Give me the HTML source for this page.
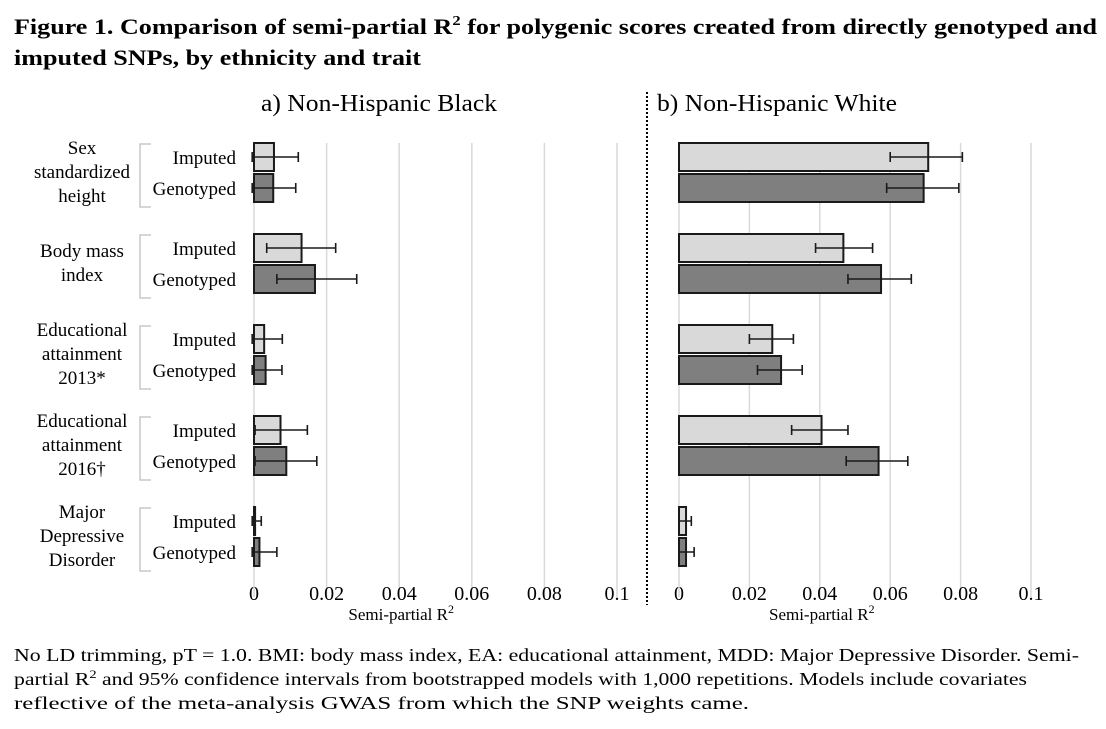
<!DOCTYPE html>
<html><head><meta charset="utf-8"><style>
html,body{margin:0;padding:0;background:#fff;width:1106px;height:729px;overflow:hidden}
svg text{font-family:"Liberation Serif",serif;fill:#000}
</style></head><body>
<svg id="fig" width="1106" height="729" viewBox="0 0 1106 729" xmlns="http://www.w3.org/2000/svg">
<text x="14" y="34" font-size="22" font-weight="bold" textLength="1083" lengthAdjust="spacingAndGlyphs">Figure 1. Comparison of semi-partial R<tspan font-size="14" dy="-9">2</tspan><tspan dy="9"> for polygenic scores created from directly genotyped and</tspan></text>
<text x="14" y="65" font-size="22" font-weight="bold" textLength="407" lengthAdjust="spacingAndGlyphs">imputed SNPs, by ethnicity and trait</text>
<text x="261" y="111" font-size="24" textLength="236" lengthAdjust="spacingAndGlyphs">a) Non-Hispanic Black</text>
<text x="657" y="111" font-size="24" textLength="240" lengthAdjust="spacingAndGlyphs">b) Non-Hispanic White</text>
<line x1="647" y1="92" x2="647" y2="605" stroke="#000" stroke-width="2" stroke-dasharray="2,2"/>
<g id="plot"></g>
<text x="14" y="661" font-size="18" textLength="1065" lengthAdjust="spacingAndGlyphs">No LD trimming, pT = 1.0. BMI: body mass index, EA: educational attainment, MDD: Major Depressive Disorder. Semi-</text>
<text x="14" y="685" font-size="18" textLength="1013" lengthAdjust="spacingAndGlyphs">partial R<tspan font-size="12" dy="-7">2</tspan><tspan dy="7"> and 95% confidence intervals from bootstrapped models with 1,000 repetitions. Models include covariates</tspan></text>
<text x="14" y="709" font-size="18" textLength="735" lengthAdjust="spacingAndGlyphs">reflective of the meta-analysis GWAS from which the SNP weights came.</text>
</svg>
<script>
const traits = [["Sex","standardized","height"],["Body mass","index"],["Educational","attainment","2013*"],["Educational","attainment","2016†"],["Major","Depressive","Disorder"]];
const ticks = [0,0.02,0.04,0.06,0.08,0.1];
const tickLabels = ["0","0.02","0.04","0.06","0.08","0.1"];
const blackImp = [0.0055,0.0131,0.0028,0.0073,0.0003];
const blackImpLo = [-0.0005,0.0035,-0.0005,0.0003,-0.0005];
const blackImpHi = [0.0122,0.0225,0.0078,0.0147,0.002];
const blackGen = [0.0053,0.0168,0.0032,0.0089,0.0015];
const blackGenLo = [-0.0005,0.0063,-0.0005,0.0003,-0.0005];
const blackGenHi = [0.0115,0.0283,0.0077,0.0173,0.0063];
const whiteImp = [0.0708,0.0467,0.0265,0.0405,0.002];
const whiteImpLo = [0.060,0.0388,0.020,0.032,0.0];
const whiteImpHi = [0.0805,0.055,0.0325,0.048,0.0035];
const whiteGen = [0.0695,0.0574,0.029,0.0567,0.002];
const whiteGenLo = [0.059,0.048,0.0223,0.0475,0.0];
const whiteGenHi = [0.0795,0.066,0.035,0.065,0.0043];

const NS="http://www.w3.org/2000/svg";
const g=document.getElementById('plot');
function mk(t,a,p){const e=document.createElementNS(NS,t);for(const k in a)e.setAttribute(k,a[k]);(p||g).appendChild(e);return e;}
const plotTop=143, plotBottom=597, groupH=91;
function yImp(i){return plotTop+i*groupH;}
function panel(x0,pxPer,imp,impLo,impHi,gen,genLo,genHi,name){
  const sx=v=>x0+v*pxPer;
  ticks.forEach((t,i)=>{
    if(i>0){const l=mk('line',{x1:sx(t),x2:sx(t),y1:plotTop,y2:plotBottom,stroke:'#d9d9d9','stroke-width':1.5});
    
    }
    const tx=mk('text',{x:sx(t),y:600,'font-size':20,'text-anchor':'middle'});tx.textContent=tickLabels[i];
    
    
  });
  const ax=mk('line',{x1:x0,x2:x0,y1:plotTop,y2:plotBottom,stroke:'#d9d9d9','stroke-width':1.5});
  
  
  const xt=mk('text',{x:sx(0.04)+2,y:620,'font-size':17,'text-anchor':'middle'});
  xt.innerHTML='Semi-partial R<tspan font-size="12" dy="-7">2</tspan>';
  
  
  for(let i=0;i<imp.length;i++){
    [[imp,impLo,impHi,'#d9d9d9',0,'imputed'],[gen,genLo,genHi,'#7f7f7f',31,'genotyped']].forEach(([v,lo,hi,col,off,s])=>{
      const y=yImp(i)+off;
      const r=mk('rect',{x:sx(0),y:y,width:Math.max(1,sx(v[i])-sx(0)),height:28,fill:col,stroke:'#1a1a1a','stroke-width':2});
      
      
      const cy=y+14;
      const e=mk('path',{d:`M${sx(lo[i])},${cy}H${sx(hi[i])}M${sx(lo[i])},${cy-5}V${cy+5}M${sx(hi[i])},${cy-5}V${cy+5}`,stroke:'#1a1a1a','stroke-width':1.6,fill:'none'});
      
      
    });
  }
}
panel(254,3630,blackImp,blackImpLo,blackImpHi,blackGen,blackGenLo,blackGenHi,'black');
panel(679,3520,whiteImp,whiteImpLo,whiteImpHi,whiteGen,whiteGenLo,whiteGenHi,'white');
traits.forEach((lines,i)=>{
  const cy=yImp(i)+29;
  const n=lines.length, lh=24;
  lines.forEach((s,j)=>{
    const t=mk('text',{x:82,y:cy+(j-(n-1)/2)*lh+6,'font-size':19,'text-anchor':'middle'});t.textContent=s;
    
    
  });
  const b=mk('path',{d:`M151,${cy-28}H140V${cy+35}H151`,stroke:'#c8c8c8','stroke-width':1.5,fill:'none'});
  
  
  [['Imputed',cy-14],['Genotyped',cy+17]].forEach(([s,y])=>{
    const t=mk('text',{x:236,y:y+6,'font-size':19,'text-anchor':'end'});t.textContent=s;
    
    
  });
});
</script>
</body></html>
